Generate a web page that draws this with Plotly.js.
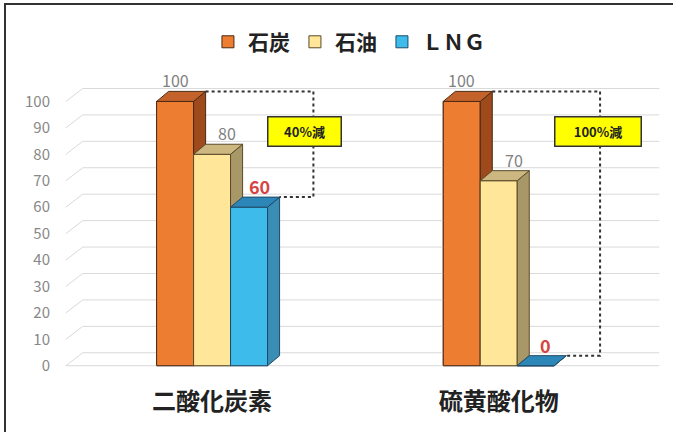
<!DOCTYPE html>
<html>
<head>
<meta charset="utf-8">
<script src="https://cdn.plot.ly/plotly-3.0.1.min.js"></script>
<style>
  html, body { margin: 0; padding: 0; background: #fff; }
  #wrap { position: relative; width: 673px; height: 432px; }
  #chart { position: absolute; left: 0; top: 0; width: 673px; height: 432px; }
  .frameTop { position: absolute; left: 4px; top: 3px; width: 669px; height: 2px; background: #333; }
  .frameLeft { position: absolute; left: 4px; top: 3px; width: 2px; height: 429px; background: #333; }
</style>
</head>
<body>
<div id="wrap">
  <div id="chart"></div>
  <div class="frameTop"></div>
  <div class="frameLeft"></div>
</div>
<script>
// ---- data ----
const categories = ['二酸化炭素', '硫黄酸化物'];
const seriesNames = ['石炭', '石油', 'ＬＮＧ'];
const coal = [100, 100];
const oil = [80, 70];
const lng = [60, 0];
const yTicks = [0, 10, 20, 30, 40, 50, 60, 70, 80, 90, 100];

// ---- style ----
const series = [coal, oil, lng];
const frontColors = ['#ED7D31', '#FFE699', '#3DBBEB'];
const topColors = ['#C4622B', '#CDB780', '#2C86B8'];
const sideColors = ['#9E4A1C', '#A89868', '#3A8DB4'];
const edgeColors = ['#4a2a14', '#5a4a2a', '#1f4a66'];
const labelColors = ['#7f7f7f', '#7f7f7f', '#D64541'];
const labelSizes = [16, 16, 18];
const labelWeights = ['normal', 'normal', 'bold'];
const labelXShift = [0, 15, 10];
const BARGAP = 0.613;
const NS = series.length;
const barW = (1 - BARGAP) / NS;
const DX = 0.042, DY = 3.8;      // bar depth (data units)
const GDX = 0.059, GDY = 4.9;    // wall depth for gridlines
const XL = -0.51, XR = 1.56;
const FONT = 'Noto Sans CJK JP, Noto Sans, sans-serif';

const xIdx = categories.map((c, i) => i);
function left(i, s) { return i - (1 - BARGAP) / 2 + s * barW; }
function right(i, s) { return left(i, s) + barW; }

const traces = [];

// legend / base bars
series.forEach((vals, s) => {
  traces.push({
    type: 'bar', x: xIdx, y: vals, name: seriesNames[s],
    marker: { color: frontColors[s], line: { color: edgeColors[s], width: 1 } },
    hoverinfo: 'skip'
  });
});

// gridlines (back wall with left diagonal)
const gx = [], gy = [];
yTicks.forEach(t => {
  gx.push(XL, XL + GDX, XR, null);
  gy.push(t, t + GDY, t + GDY, null);
});
gx.push(XL, XR, null); gy.push(yTicks[0], yTicks[0], null);
traces.push({
  type: 'scatter', mode: 'lines', x: gx, y: gy, showlegend: false, hoverinfo: 'skip',
  line: { color: '#d9d9d9', width: 1 }
});

// 3D faces
function poly(pts) {
  const x = [], y = [];
  pts.forEach(p => { x.push(p[0]); y.push(p[1]); });
  return { x, y };
}
series.forEach((vals, s) => {
  const faces = { front: { x: [], y: [] }, side: { x: [], y: [] }, top: { x: [], y: [] } };
  vals.forEach((v, i) => {
    const L = left(i, s), R = right(i, s);
    const f = poly([[L, 0], [R, 0], [R, v], [L, v], [L, 0]]);
    const sd = poly([[R, 0], [R + DX, DY], [R + DX, v + DY], [R, v], [R, 0]]);
    const tp = poly([[L, v], [R, v], [R + DX, v + DY], [L + DX, v + DY], [L, v]]);
    [['front', f], ['side', sd], ['top', tp]].forEach(([k, p]) => {
      faces[k].x.push(...p.x, null); faces[k].y.push(...p.y, null);
    });
  });
  const fills = { front: frontColors[s], side: sideColors[s], top: topColors[s] };
  ['front', 'side', 'top'].forEach(k => {
    traces.push({
      type: 'scatter', mode: 'lines', x: faces[k].x, y: faces[k].y,
      fill: 'toself', fillcolor: fills[k], showlegend: false, hoverinfo: 'skip',
      line: { color: edgeColors[s], width: 1 }
    });
  });
});

// dotted reduction lines
const dx = [], dy = [], boxes = [];
xIdx.forEach(i => {
  const xLine = right(i, NS - 1) + DX + 0.118;
  const vTop = series[0][i] + DY, vBot = series[NS - 1][i] + DY;
  dx.push(right(i, 0) + DX, xLine, xLine, right(i, NS - 1) + DX, null);
  dy.push(vTop, vTop, vBot, vBot, null);
  const txt = Math.round((series[0][i] - series[NS - 1][i]) / series[0][i] * 100) + '%減';
  boxes.push({
    x: xLine, y: vTop - 15, xref: 'x', yref: 'y', text: txt, showarrow: false,
    xanchor: 'left', yanchor: 'middle', xshift: -46,
    bgcolor: '#FFFF00', bordercolor: '#333', borderwidth: 1.5, borderpad: 2,
    width: 16 + 13 * txt.length, height: 24,
    font: { family: FONT, size: 13, color: '#222', weight: 'bold' }
  });
});
traces.push({
  type: 'scatter', mode: 'lines', x: dx, y: dy, showlegend: false, hoverinfo: 'skip',
  line: { color: '#333', width: 2, dash: 'dot' }
});

// value labels
const labels = [];
series.forEach((vals, s) => {
  vals.forEach((v, i) => {
    labels.push({
      x: (left(i, s) + right(i, s)) / 2, y: v, xref: 'x', yref: 'y',
      text: String(v), showarrow: false, yshift: 21, xshift: labelXShift[s],
      xanchor: 'center', yanchor: 'middle',
      font: { family: FONT, size: labelSizes[s], color: labelColors[s], weight: labelWeights[s] }
    });
  });
});

const layout = {
  width: 673, height: 432,
  margin: { l: 63, r: 8, t: 75, b: 61 },
  paper_bgcolor: '#ffffff', plot_bgcolor: '#ffffff',
  barmode: 'group', bargap: BARGAP, bargroupgap: 0,
  showlegend: true,
  legend: {
    orientation: 'h', x: 0.475, xanchor: 'center', y: 1.111, yanchor: 'middle',
    font: { family: FONT, size: 21, color: '#222', weight: 'bold' },
    traceorder: 'normal', itemwidth: 30
  },
  xaxis: {
    range: [-0.52, 1.58], tickmode: 'array', tickvals: xIdx, ticktext: categories,
    showgrid: false, zeroline: false, showline: false, ticks: '',
    ticklabelstandoff: 14,
    tickfont: { family: FONT, size: 24, color: '#222', weight: 'bold' }
  },
  yaxis: {
    range: [-2, 110], tickmode: 'array', tickvals: yTicks, ticktext: yTicks.map(String),
    showgrid: false, zeroline: false, showline: false, ticks: '',
    ticklabelstandoff: 12,
    tickfont: { family: FONT, size: 15, color: '#888' }
  },
  annotations: labels.concat(boxes)
};

Plotly.newPlot('chart', traces, layout, { staticPlot: true, displayModeBar: false });
</script>
</body>
</html>
